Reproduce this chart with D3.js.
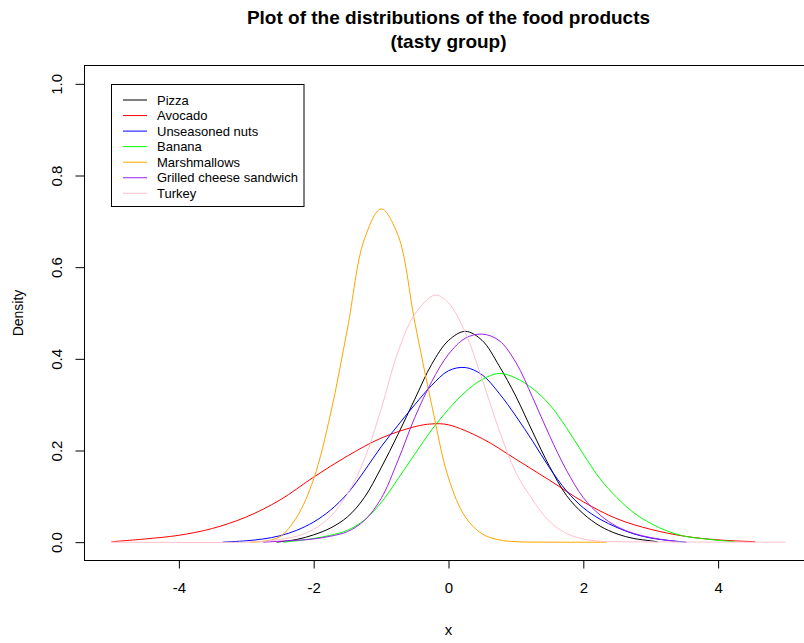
<!DOCTYPE html>
<html>
<head>
<meta charset="utf-8">
<script src="https://cdn.jsdelivr.net/npm/d3@7"></script>
<style>
  html, body { margin: 0; padding: 0; background: #ffffff; }
  svg { display: block; font-family: "Liberation Sans", Arial, sans-serif; }
</style>
</head>
<body>
<svg id="chart" width="804" height="643"></svg>
<script>
// Kernel density estimates of the tasty-group food products
const seriesNames = ["Pizza", "Avocado", "Unseasoned nuts", "Banana", "Marshmallows", "Grilled cheese sandwich", "Turkey"];
const seriesColors = ["#000000", "#ff0000", "#0000ff", "#00ff00", "#ffa500", "#a020f0", "#ffc0cb"];

const pizzaX = [-2.55, -2.25, -2, -1.75, -1.5, -1.25, -1, -0.75, -0.5, -0.25, 0, 0.25, 0.5, 0.75, 1, 1.25, 1.5, 1.75, 2, 2.25, 2.5, 2.75, 3, 3.1];
const pizzaY = [0.000, 0.006, 0.016, 0.031, 0.055, 0.097, 0.162, 0.235, 0.312, 0.388, 0.440, 0.460, 0.440, 0.385, 0.318, 0.240, 0.165, 0.102, 0.062, 0.035, 0.018, 0.008, 0.003, 0.001];

const avocadoX = [-5, -4.5, -4, -3.5, -3, -2.5, -2, -1.5, -1, -0.5, -0.25, 0, 0.5, 1, 1.5, 2, 2.5, 3, 3.5, 4, 4.55];
const avocadoY = [0.001, 0.007, 0.015, 0.030, 0.055, 0.092, 0.142, 0.188, 0.227, 0.252, 0.258, 0.256, 0.226, 0.181, 0.135, 0.088, 0.051, 0.028, 0.013, 0.005, 0.001];

const nutsX = [-3.35, -3, -2.75, -2.5, -2.25, -2, -1.75, -1.5, -1.25, -1, -0.75, -0.5, -0.25, 0, 0.25, 0.5, 0.75, 1, 1.25, 1.5, 1.75, 2, 2.25, 2.5, 2.75, 3, 3.25, 3.53];
const nutsY = [0.000, 0.003, 0.007, 0.014, 0.026, 0.044, 0.070, 0.106, 0.155, 0.208, 0.255, 0.300, 0.342, 0.374, 0.381, 0.365, 0.325, 0.275, 0.220, 0.162, 0.112, 0.075, 0.050, 0.032, 0.018, 0.009, 0.004, 0.000];

const bananaX = [-2.45, -2.25, -2, -1.75, -1.5, -1.25, -1, -0.75, -0.5, -0.25, 0, 0.25, 0.5, 0.75, 1, 1.25, 1.5, 1.75, 2, 2.25, 2.5, 2.75, 3, 3.25, 3.5, 3.75, 4, 4.25];
const bananaY = [0.000, 0.003, 0.008, 0.015, 0.026, 0.048, 0.086, 0.138, 0.192, 0.245, 0.290, 0.328, 0.355, 0.368, 0.358, 0.335, 0.300, 0.250, 0.192, 0.138, 0.097, 0.064, 0.041, 0.024, 0.013, 0.008, 0.004, 0.001];

const marshmallowsX = [-2.95, -2.75, -2.5, -2.25, -2, -1.75, -1.5, -1.25, -1, -0.75, -0.5, -0.25, 0, 0.25, 0.5, 0.75, 1, 1.5, 2.35];
const marshmallowsY = [0.000, 0.002, 0.012, 0.055, 0.138, 0.280, 0.465, 0.660, 0.727, 0.670, 0.480, 0.300, 0.140, 0.055, 0.018, 0.005, 0.001, 0.000, 0.000];

const grilledX = [-2.75, -2.5, -2.25, -2, -1.75, -1.5, -1.25, -1, -0.75, -0.5, -0.25, 0, 0.25, 0.5, 0.75, 1, 1.25, 1.5, 1.75, 2, 2.25, 2.5, 2.75, 3, 3.25, 3.4];
const grilledY = [0.000, 0.002, 0.004, 0.007, 0.013, 0.023, 0.047, 0.095, 0.178, 0.272, 0.350, 0.410, 0.445, 0.454, 0.440, 0.392, 0.315, 0.232, 0.157, 0.097, 0.059, 0.034, 0.019, 0.010, 0.004, 0.001];

const turkeyX = [-5, -3, -2.75, -2.5, -2.25, -2, -1.75, -1.5, -1.25, -1, -0.75, -0.5, -0.2, 0, 0.25, 0.5, 0.75, 1, 1.25, 1.5, 1.75, 2, 2.25, 2.5, 5];
const turkeyY = [0.000, 0.000, 0.002, 0.006, 0.013, 0.028, 0.056, 0.105, 0.180, 0.290, 0.415, 0.497, 0.539, 0.522, 0.457, 0.355, 0.245, 0.152, 0.092, 0.045, 0.019, 0.007, 0.002, 0.001, 0.000];

const xTicks = [-4, -2, 0, 2, 4];
const yTicks = [0.0, 0.2, 0.4, 0.6, 0.8, 1.0];

const seriesX = [pizzaX, avocadoX, nutsX, bananaX, marshmallowsX, grilledX, turkeyX];
const seriesY = [pizzaY, avocadoY, nutsY, bananaY, marshmallowsY, grilledY, turkeyY];

const svg = d3.select("#chart");
svg.append("rect").attr("width", 804).attr("height", 643).attr("fill", "#ffffff");

const x = d3.scaleLinear().domain([-5.4, 5.4]).range([84.5, 812.5]);
const y = d3.scaleLinear().domain([-0.04, 1.04]).range([560.5, 65.5]);

// density curves
const line = d3.line()
  .x(d => x(d[0]))
  .y(d => y(Math.max(0, d[1])))
  .curve(d3.curveCatmullRom.alpha(0.5));

seriesNames.forEach((name, i) => {
  const pts = seriesX[i].map((v, j) => [v, seriesY[i][j]]);
  svg.append("path")
    .datum(pts)
    .attr("d", line)
    .attr("fill", "none")
    .attr("stroke", seriesColors[i])
    .attr("stroke-width", 1);
});

// plot frame
svg.append("rect")
  .attr("x", x(-5.4)).attr("y", y(1.04))
  .attr("width", x(5.4) - x(-5.4)).attr("height", y(-0.04) - y(1.04))
  .attr("fill", "none").attr("stroke", "#000").attr("stroke-width", 1);

// x axis
const xAxis = svg.append("g")
  .attr("transform", `translate(0,${y(-0.04)})`)
  .call(d3.axisBottom(x).tickValues(xTicks).tickSize(8).tickPadding(14).tickFormat(d3.format("d")));
xAxis.select(".domain").remove();
xAxis.selectAll("line").attr("stroke", "#000");
xAxis.selectAll("text").attr("font-size", 15).attr("fill", "#000")
  .attr("font-family", "Liberation Sans, Arial, sans-serif")
  .text(d => d < 0 ? "-" + Math.abs(d) : String(d));

// y axis with rotated labels
const yAxis = svg.append("g")
  .attr("transform", `translate(${x(-5.4)},0)`)
  .call(d3.axisLeft(y).tickValues(yTicks).tickSize(9).tickFormat(d3.format(".1f")));
yAxis.select(".domain").remove();
yAxis.selectAll("line").attr("stroke", "#000");
yAxis.selectAll("text")
  .attr("font-size", 15).attr("fill", "#000")
  .attr("font-family", "Liberation Sans, Arial, sans-serif")
  .attr("x", 0).attr("y", -23).attr("dy", null)
  .attr("text-anchor", "middle")
  .attr("transform", "rotate(-90)");

// titles
const title = svg.append("text")
  .attr("x", 448.5).attr("text-anchor", "middle")
  .attr("font-size", 19).attr("font-weight", "bold").attr("fill", "#000");
title.append("tspan").attr("x", 448.5).attr("y", 24).text("Plot of the distributions of the food products");
title.append("tspan").attr("x", 448.5).attr("y", 48).text("(tasty group)");

svg.append("text")
  .attr("x", 448.5).attr("y", 635)
  .attr("text-anchor", "middle").attr("font-size", 15).attr("fill", "#000")
  .text("x");

svg.append("text")
  .attr("transform", `translate(23,${(y(-0.04) + y(1.04)) / 2}) rotate(-90)`)
  .attr("text-anchor", "middle").attr("font-size", 14).attr("fill", "#000")
  .text("Density");

// legend
const legend = svg.append("g");
legend.append("rect")
  .attr("x", 111.5).attr("y", 84.5).attr("width", 192.5).attr("height", 122)
  .attr("fill", "#fff").attr("stroke", "#000").attr("stroke-width", 1);
seriesNames.forEach((name, i) => {
  const ry = 100 + i * 15.55;
  legend.append("line")
    .attr("x1", 123).attr("x2", 147).attr("y1", ry).attr("y2", ry)
    .attr("stroke", seriesColors[i]).attr("stroke-width", 1);
  legend.append("text")
    .attr("x", 157).attr("y", ry + 4.5)
    .attr("font-size", 13).attr("fill", "#000")
    .text(name);
});
</script>
</body>
</html>
